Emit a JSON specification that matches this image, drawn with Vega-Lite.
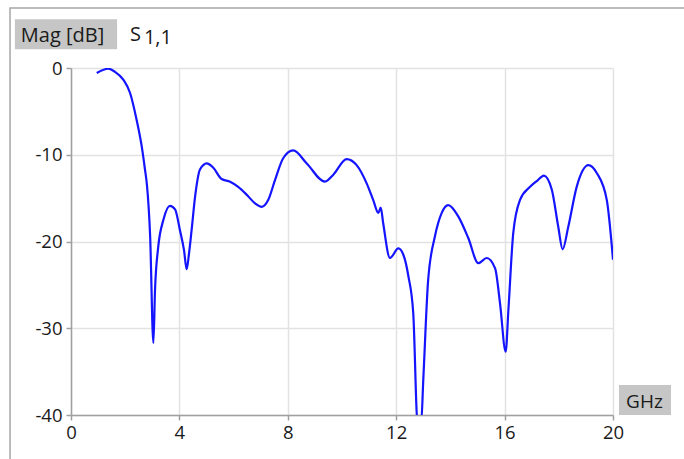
{
  "$schema": "https://vega.github.io/schema/vega-lite/v6.json",
  "width": 542,
  "height": 347,
  "autosize": {"type": "none"},
  "padding": {"left": 71, "top": 68, "right": 71, "bottom": 44},
  "background": "white",
  "config": {
    "view": {"stroke": null},
    "axis": {
      "grid": true, "gridColor": "#e2e2e2", "gridWidth": 1.5,
      "domainColor": "#a0a0a0", "domainWidth": 1.5, "tickColor": "#a0a0a0", "tickSize": 5, "tickWidth": 1.5,
      "labelFont": "Open Sans", "labelFontSize": 18.5, "labelColor": "#1a1a1a", "labelFlush": false
    },
    "axisX": {"labelPadding": 3},
    "axisY": {"labelPadding": 4}
  },
  "datasets": {
    "s11": [
      {"f": 0.95, "db": -0.58}, {"f": 1.38, "db": -0.08}, {"f": 1.62, "db": -0.43}, {"f": 1.93, "db": -1.35},
      {"f": 2.18, "db": -2.88}, {"f": 2.42, "db": -5.96}, {"f": 2.61, "db": -9.04}, {"f": 2.73, "db": -11.7},
      {"f": 2.8, "db": -13.4}, {"f": 2.92, "db": -19.4}, {"f": 3.04, "db": -31.7}, {"f": 3.1, "db": -25.6},
      {"f": 3.22, "db": -20.6}, {"f": 3.41, "db": -17.5}, {"f": 3.65, "db": -15.9}, {"f": 3.84, "db": -16.3},
      {"f": 4.02, "db": -18.7}, {"f": 4.17, "db": -21.0}, {"f": 4.27, "db": -23.2}, {"f": 4.35, "db": -21.5},
      {"f": 4.45, "db": -18.7}, {"f": 4.58, "db": -14.8}, {"f": 4.76, "db": -11.7}, {"f": 5.01, "db": -11.0},
      {"f": 5.25, "db": -11.5}, {"f": 5.56, "db": -12.8}, {"f": 5.87, "db": -13.1}, {"f": 6.17, "db": -13.7},
      {"f": 6.48, "db": -14.6}, {"f": 6.79, "db": -15.6}, {"f": 7.04, "db": -16.0}, {"f": 7.28, "db": -15.2},
      {"f": 7.53, "db": -12.9}, {"f": 7.83, "db": -10.4}, {"f": 8.2, "db": -9.5}, {"f": 8.7, "db": -11.0},
      {"f": 9.37, "db": -13.1}, {"f": 9.68, "db": -12.3}, {"f": 10.17, "db": -10.5}, {"f": 10.54, "db": -11.2},
      {"f": 10.91, "db": -13.3}, {"f": 11.15, "db": -15.2}, {"f": 11.34, "db": -16.7}, {"f": 11.43, "db": -16.1},
      {"f": 11.52, "db": -17.9}, {"f": 11.77, "db": -21.9}, {"f": 12.08, "db": -20.8}, {"f": 12.26, "db": -21.5},
      {"f": 12.45, "db": -24.0}, {"f": 12.63, "db": -28.3}, {"f": 12.79, "db": -41.0}, {"f": 12.92, "db": -41.0},
      {"f": 13.0, "db": -35.9}, {"f": 13.18, "db": -24.4}, {"f": 13.43, "db": -19.4}, {"f": 13.68, "db": -16.7},
      {"f": 13.92, "db": -15.8}, {"f": 14.29, "db": -17.1}, {"f": 14.66, "db": -19.6}, {"f": 15.03, "db": -22.5},
      {"f": 15.34, "db": -21.9}, {"f": 15.65, "db": -23.1}, {"f": 15.83, "db": -27.1}, {"f": 16.04, "db": -32.7},
      {"f": 16.14, "db": -27.9}, {"f": 16.32, "db": -19.0}, {"f": 16.57, "db": -15.2}, {"f": 16.94, "db": -13.7},
      {"f": 17.2, "db": -13.0}, {"f": 17.45, "db": -12.4}, {"f": 17.74, "db": -14.0}, {"f": 17.98, "db": -18.3},
      {"f": 18.14, "db": -20.9}, {"f": 18.35, "db": -18.3}, {"f": 18.66, "db": -13.7}, {"f": 19.09, "db": -11.2},
      {"f": 19.4, "db": -12.1}, {"f": 19.77, "db": -15.2}, {"f": 20.0, "db": -22.1}
    ],
    "one": [{}]
  },
  "layer": [
    {
      "data": {"name": "one"},
      "mark": {"type": "rect", "fill": null, "stroke": "#a6a6a6", "strokeWidth": 1.5, "clip": false},
      "encoding": {
        "x": {"datum": -2.25, "type": "quantitative", "scale": {"domain": [0, 20], "nice": false, "zero": false}, "axis": {"title": null}},
        "x2": {"datum": 30},
        "y": {"datum": 6.92, "type": "quantitative", "scale": {"domain": [-40, 0], "nice": false, "zero": false}, "axis": {"title": null}},
        "y2": {"datum": -60}
      }
    },
    {
      "data": {"name": "s11"},
      "mark": {"type": "line", "color": "#1414ff", "strokeWidth": 2.2, "interpolate": "monotone", "clip": true},
      "encoding": {
        "x": {
          "field": "f", "type": "quantitative",
          "scale": {"domain": [0, 20], "nice": false, "zero": false},
          "axis": {"values": [0, 4, 8, 12, 16, 20], "title": null}
        },
        "y": {
          "field": "db", "type": "quantitative",
          "scale": {"domain": [-40, 0], "nice": false, "zero": false},
          "axis": {"values": [-40, -30, -20, -10, 0], "title": null, "labelExpr": "replace(datum.label, '−', '-')"}
        }
      }
    },
    {
      "data": {"name": "one"},
      "mark": {"type": "rect", "fill": "#c6c6c6", "clip": false},
      "encoding": {
        "x": {"datum": -2.07, "type": "quantitative", "scale": {"domain": [0, 20], "nice": false, "zero": false}, "axis": {"title": null}},
        "x2": {"datum": 1.7},
        "y": {"datum": 5.61, "type": "quantitative", "scale": {"domain": [-40, 0], "nice": false, "zero": false}, "axis": {"title": null}},
        "y2": {"datum": 2.16}
      }
    },
    {
      "data": {"name": "one"},
      "mark": {"type": "rect", "fill": "#c6c6c6", "clip": false},
      "encoding": {
        "x": {"datum": 20.22, "type": "quantitative", "scale": {"domain": [0, 20], "nice": false, "zero": false}, "axis": {"title": null}},
        "x2": {"datum": 22.14},
        "y": {"datum": -36.54, "type": "quantitative", "scale": {"domain": [-40, 0], "nice": false, "zero": false}, "axis": {"title": null}},
        "y2": {"datum": -40}
      }
    },
    {
      "data": {"name": "one"},
      "mark": {"type": "text", "text": "Mag [dB]", "font": "Open Sans", "fontSize": 20, "color": "#1a1a1a", "align": "left", "baseline": "alphabetic", "clip": false},
      "encoding": {
        "x": {"datum": -1.85, "type": "quantitative", "scale": {"domain": [0, 20], "nice": false, "zero": false}, "axis": {"title": null}},
        "y": {"datum": 3.0, "type": "quantitative", "scale": {"domain": [-40, 0], "nice": false, "zero": false}, "axis": {"title": null}}
      }
    },
    {
      "data": {"name": "one"},
      "mark": {"type": "text", "text": "S", "font": "Open Sans", "fontSize": 20, "color": "#1a1a1a", "align": "left", "baseline": "alphabetic", "clip": false},
      "encoding": {
        "x": {"datum": 2.18, "type": "quantitative", "scale": {"domain": [0, 20], "nice": false, "zero": false}, "axis": {"title": null}},
        "y": {"datum": 3.11, "type": "quantitative", "scale": {"domain": [-40, 0], "nice": false, "zero": false}, "axis": {"title": null}}
      }
    },
    {
      "data": {"name": "one"},
      "mark": {"type": "text", "text": "1,1", "font": "Open Sans", "fontSize": 20, "color": "#1a1a1a", "align": "left", "baseline": "alphabetic", "clip": false},
      "encoding": {
        "x": {"datum": 2.69, "type": "quantitative", "scale": {"domain": [0, 20], "nice": false, "zero": false}, "axis": {"title": null}},
        "y": {"datum": 2.82, "type": "quantitative", "scale": {"domain": [-40, 0], "nice": false, "zero": false}, "axis": {"title": null}}
      }
    },
    {
      "data": {"name": "one"},
      "mark": {"type": "text", "text": "GHz", "font": "Open Sans", "fontSize": 19, "color": "#1a1a1a", "align": "center", "baseline": "alphabetic", "clip": false},
      "encoding": {
        "x": {"datum": 21.16, "type": "quantitative", "scale": {"domain": [0, 20], "nice": false, "zero": false}, "axis": {"title": null}},
        "y": {"datum": -39.19, "type": "quantitative", "scale": {"domain": [-40, 0], "nice": false, "zero": false}, "axis": {"title": null}}
      }
    }
  ]
}
